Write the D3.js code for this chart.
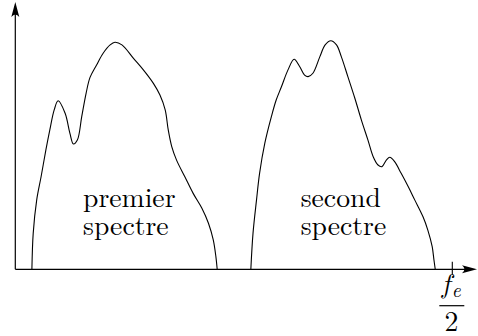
<!DOCTYPE html>
<html>
<head>
<meta charset="utf-8">
<script src="https://cdn.jsdelivr.net/npm/d3@7"></script>
<style>
html,body{margin:0;padding:0;background:#fff;}
svg{display:block;}
</style>
</head>
<body>
<svg id="chart" width="478" height="336"></svg>
<script>
// Frequency axis: 0 .. 100 where 100 = fe/2 ; amplitude 0 .. 100 (arbitrary units)
const spectrum1X = [3.8,4.1,4.9,5.9,7.0,7.9,8.9,9.8,11.4,12.5,13.3,14.2,15.2,16.2,17.1,18.6,20.1,21.7,22.8,24.4,27.0,29.3,31.6,33.1,34.3,35.0,35.8,36.9,38.8,40.7,42.7,44.2,45.3,45.9,46.2];
const spectrum1Y = [0,13.9,26.7,35.6,45.9,53.6,61.3,64.8,60.0,52.3,48.2,49.7,58.7,67.7,73.8,78.6,83.1,86.3,87.3,86.3,81.2,76.7,71.5,67.0,61.3,53.6,47.2,42.0,35.6,29.2,23.5,17.7,11.3,4.9,0];
const spectrum2X = [53.9,54.4,55.2,55.9,57.1,58.6,59.7,60.9,62.4,63.8,65.1,66.2,67.0,68.1,69.7,70.9,72.2,73.5,74.6,76.1,77.7,79.2,80.7,81.9,83.0,83.9,84.9,85.7,86.8,88.3,89.9,91.4,93.3,94.4,95.4,95.8,96.1];
const spectrum2Y = [0,13.9,26.7,36.9,48.5,58.7,65.1,70.2,76.7,80.8,77.9,74.7,74.1,75.4,81.8,86.3,87.9,86.3,81.8,74.1,65.8,57.4,49.7,43.3,40.1,39.5,42.0,43.1,41.4,36.9,31.8,26.7,20.2,15.1,8.7,3.6,0];
const labels1 = ["premier", "spectre"];
const labels2 = ["second", "spectre"];
const tickValues = [100];

const FONT = "Latin Modern Roman";
const svg = d3.select("#chart").attr("font-family", FONT);
const x = d3.scaleLinear().domain([0, 100]).range([15.3, 452.3]);
const y = d3.scaleLinear().domain([0, 100]).range([269.3, 9.3]);

const line = d3.line().x(d => x(d[0])).y(d => y(d[1])).curve(d3.curveCatmullRom.alpha(0.5));

[[spectrum1X, spectrum1Y], [spectrum2X, spectrum2Y]].forEach(([xs, ys]) => {
  svg.append("path")
    .datum(xs.map((v, i) => [v, ys[i]]))
    .attr("d", line)
    .attr("fill", "none")
    .attr("stroke", "#000")
    .attr("stroke-width", 1.1);
});

// axes
const x0 = x(0), y0 = y(0);
svg.append("line").attr("x1", x0).attr("y1", y0).attr("x2", x0).attr("y2", 6)
  .attr("stroke", "#000").attr("stroke-width", 1.2);
svg.append("line").attr("x1", x0).attr("y1", y0).attr("x2", 472).attr("y2", y0)
  .attr("stroke", "#000").attr("stroke-width", 1.2);

const arrow = "M0,0 L-15,-4 Q-10,0 -15,4 Z";
svg.append("path").attr("d", arrow).attr("transform", `translate(${x0},2) rotate(-90)`).attr("fill", "#000");
svg.append("path").attr("d", arrow).attr("transform", `translate(477,${y0})`).attr("fill", "#000");

// tick at fe/2
svg.selectAll("line.tick").data(tickValues).enter().append("line")
  .attr("class", "tick")
  .attr("x1", d => x(d)).attr("x2", d => x(d))
  .attr("y1", y0 - 7.6).attr("y2", y0 + 5.4)
  .attr("stroke", "#000").attr("stroke-width", 1.1);

// tick label fe/2
const tl = svg.append("g").attr("transform", `translate(${x(100)},0)`);
const num = tl.append("text").attr("x", -10.5).attr("y", 292.5)
  .attr("font-family", FONT).attr("font-size", 27.7).attr("font-style", "italic");
num.append("tspan").text("f");
num.append("tspan").attr("dx", 1.5).attr("dy", 4).attr("font-size", 19.4).text("e");
tl.append("line").attr("x1", -13).attr("x2", 12).attr("y1", 305.7).attr("y2", 305.7)
  .attr("stroke", "#000").attr("stroke-width", 1.2);
tl.append("text").attr("x", -1).attr("y", 330.7).attr("text-anchor", "middle")
  .attr("font-family", FONT).attr("font-size", 27.7).text("2");

// labels
function addLabel(lines, xv) {
  const t = svg.append("text")
    .attr("font-family", FONT)
    .attr("font-size", 27.7)
    .attr("y", 207);
  t.selectAll("tspan").data(lines).enter().append("tspan")
    .attr("x", x(xv)).attr("dy", (d, i) => i === 0 ? 0 : 28)
    .text(d => d);
}
addLabel(labels1, 15.5);
addLabel(labels2, 65.3);
</script>
</body>
</html>
